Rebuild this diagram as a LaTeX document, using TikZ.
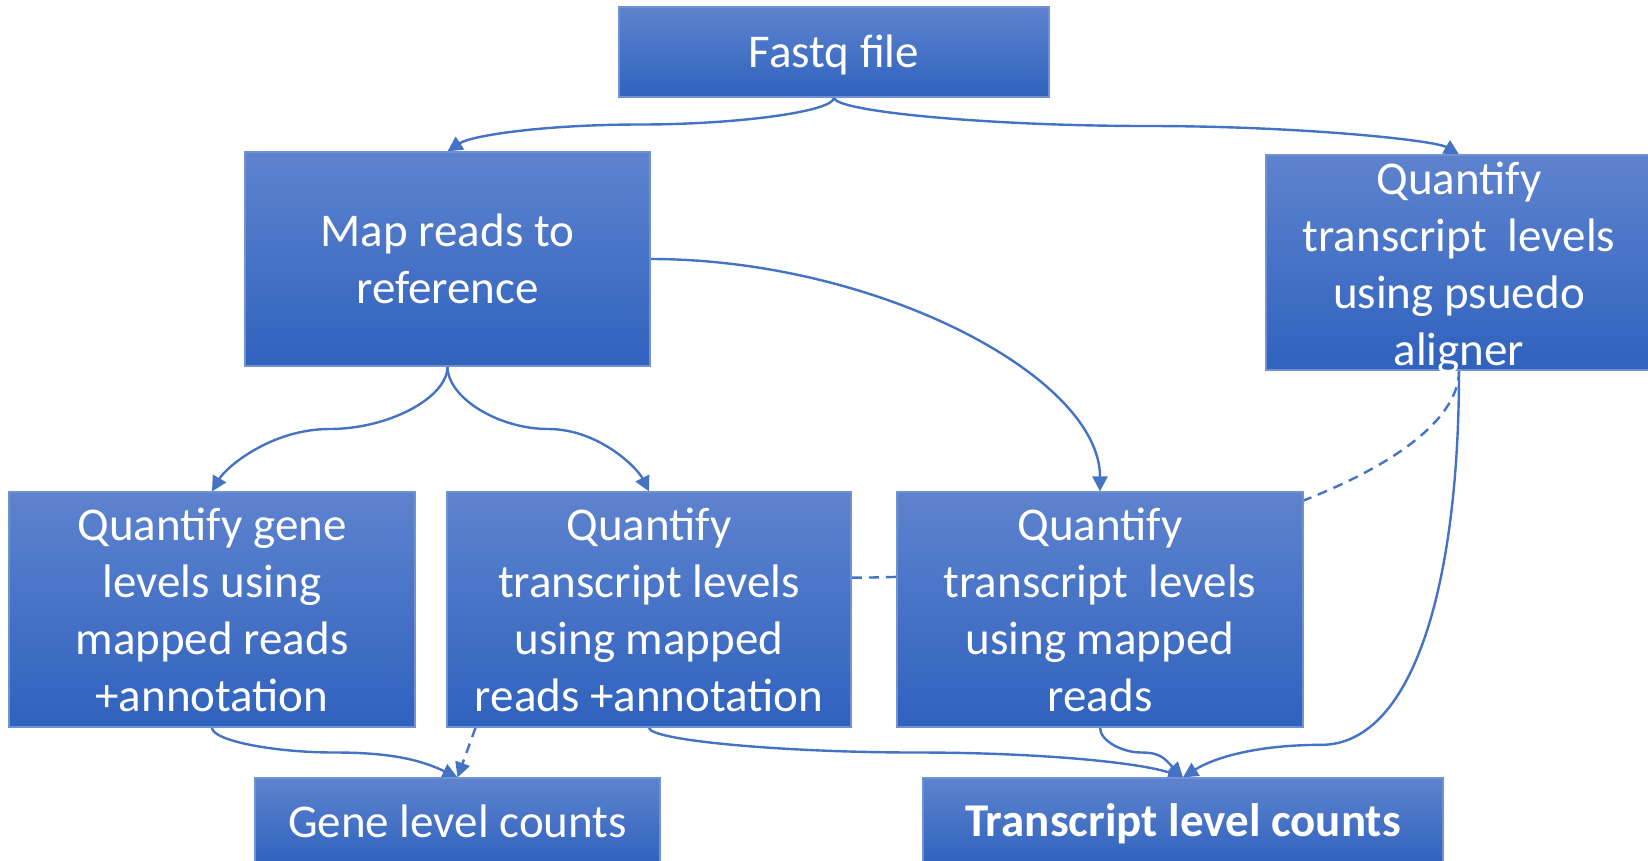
\documentclass[tikz,border=0pt]{standalone}
\usepackage{fontspec}
\setmainfont{Carlito}
\usetikzlibrary{calc,arrows.meta}
\definecolor{lc}{RGB}{68,114,196}
\definecolor{btop}{RGB}{94,131,206}
\definecolor{bbot}{RGB}{47,98,190}
\definecolor{bedge}{RGB}{112,146,212}
\pgfdeclarelayer{bg}
\pgfsetlayers{bg,main}
\begin{document}
\begin{tikzpicture}[x=1pt,y=1pt,
  box/.style={rectangle, top color=btop, bottom color=bbot, draw=bedge, line width=1.2pt,
              text=white, align=center, inner sep=0pt, font=\fontsize{47}{57}\selectfont},
  txt/.style={text=white, align=center, inner sep=0pt, font=\fontsize{47}{57}\selectfont},
  conn/.style={draw=lc, line width=2.4pt},
  arr/.style={-{Triangle[length=15pt,width=15pt]}},
  dsh/.style={dash pattern=on 10pt off 7pt}
]
\useasboundingbox (0,0) rectangle (1648,-860);

% boxes
\node[box, minimum width=430pt, minimum height=90pt] (fastq) at (834,-52) {};
\node[txt] (fastqtxt) at ($(fastq.center)+(0,-3)$) {Fastq file};
\node[box, minimum width=405pt, minimum height=214pt] (map) at (447.5,-259) {Map reads to\\reference};
\node[box, minimum width=386pt, minimum height=215pt] (pseudo) at (1459,-262.5) {};
\node[txt] (pseudotxt) at ($(pseudo.center)+(0,-5)$) {Quantify\\transcript\ \ levels\\using psuedo\\aligner};
\node[box, minimum width=406pt, minimum height=235pt] (gq) at (212,-609.5) {Quantify gene\\levels using\\mapped reads\\+annotation};
\node[box, minimum width=404pt, minimum height=235pt] (txa) at (649,-609.5) {Quantify\\transcript levels\\using mapped\\reads +annotation};
\node[box, minimum width=406pt, minimum height=235pt] (txm) at (1100,-609.5) {Quantify\\transcript\ \ levels\\using mapped\\reads};
\node[box, minimum width=405pt, minimum height=86pt] (gc) at (457.5,-821) {Gene level counts};
\node[box, minimum width=520pt, minimum height=86pt] (txc) at (1183,-821) {};
\node[txt, font=\fontsize{47}{57}\selectfont\bfseries] (txctxt) at ($(txc.center)+(0,-3)$) {Transcript level counts};

% helper coordinates
\coordinate (m1) at ($(fastq.south)!0.5!(map.north)$);
\coordinate (m2) at ($(fastq.south)!0.5!(pseudo.north)$);
\coordinate (m4) at ($(map.south)!0.5!(gq.north)$);
\coordinate (m5) at ($(map.south)!0.5!(txa.north)$);
\coordinate (m8) at ($(gq.south)!0.5!(gc.north)$);
\coordinate (m9) at ($(txa.south)!0.5!(txc.north)$);
\coordinate (m10) at ($(txm.south)!0.5!(txc.north)$);
\coordinate (h1) at ($(pseudo.south)!0.5!(txc.north)$);
\coordinate (h2) at ($(pseudo.south)!0.92!(txc.north)$);
\coordinate (m11) at (h1 |- h2);
\coordinate (ta) at ($(txa.north east)!0.365!(txa.south east)$);
\coordinate (tb) at ($(txa.south west)!0.072!(txa.south east)$);

\begin{pgfonlayer}{bg}
% Fastq -> map / pseudo
\draw[conn,arr] (fastq.south) .. controls +(0,-14) and +(96,0) .. (m1)
  .. controls +(-96,0) and +(24,16) .. (map.north);
\draw[conn,arr] (fastq.south) .. controls +(0,-14) and +(-156,0) .. (m2)
  .. controls +(156,0) and +(-24,14) .. (pseudo.north);
% map -> quantifiers
\draw[conn,arr] (map.east) .. controls +(225,0) and +(0,115) .. (txm.north);
\draw[conn,arr] (map.south) .. controls +(0,-31) and +(59,0) .. (m4)
  .. controls +(-59,0) and +(14,24) .. (gq.north);
\draw[conn,arr] (map.south) .. controls +(0,-31) and +(-50,0) .. (m5)
  .. controls +(50,0) and +(-12,24) .. (txa.north);
% dashed links
\draw[conn,dsh] (pseudo.south) .. controls +(0,-104) and +(303,0) .. (ta);
\draw[conn,dsh,arr] (tb) -- (gc.north);
% to counts
\draw[conn,arr] (gq.south) .. controls +(0,-13) and +(-61,0) .. (m8)
  .. controls +(61,0) and +(-34,16) .. (gc.north);
\draw[conn,arr] (txa.south) .. controls +(0,-13) and +(-130,0) .. (m9)
  .. controls +(130,0) and +(-40,14) .. (txc.north);
\draw[conn,arr] (txm.south) .. controls +(0,-13) and +(-20,0) .. (m10)
  .. controls +(20,0) and +(-18,18) .. (txc.north);
\draw[conn,arr] (pseudo.south) .. controls +(0,-220) and +(90,0) .. (m11)
  .. controls +(-69,0) and +(28,18) .. (txc.north);
\end{pgfonlayer}
\end{tikzpicture}
\end{document}
